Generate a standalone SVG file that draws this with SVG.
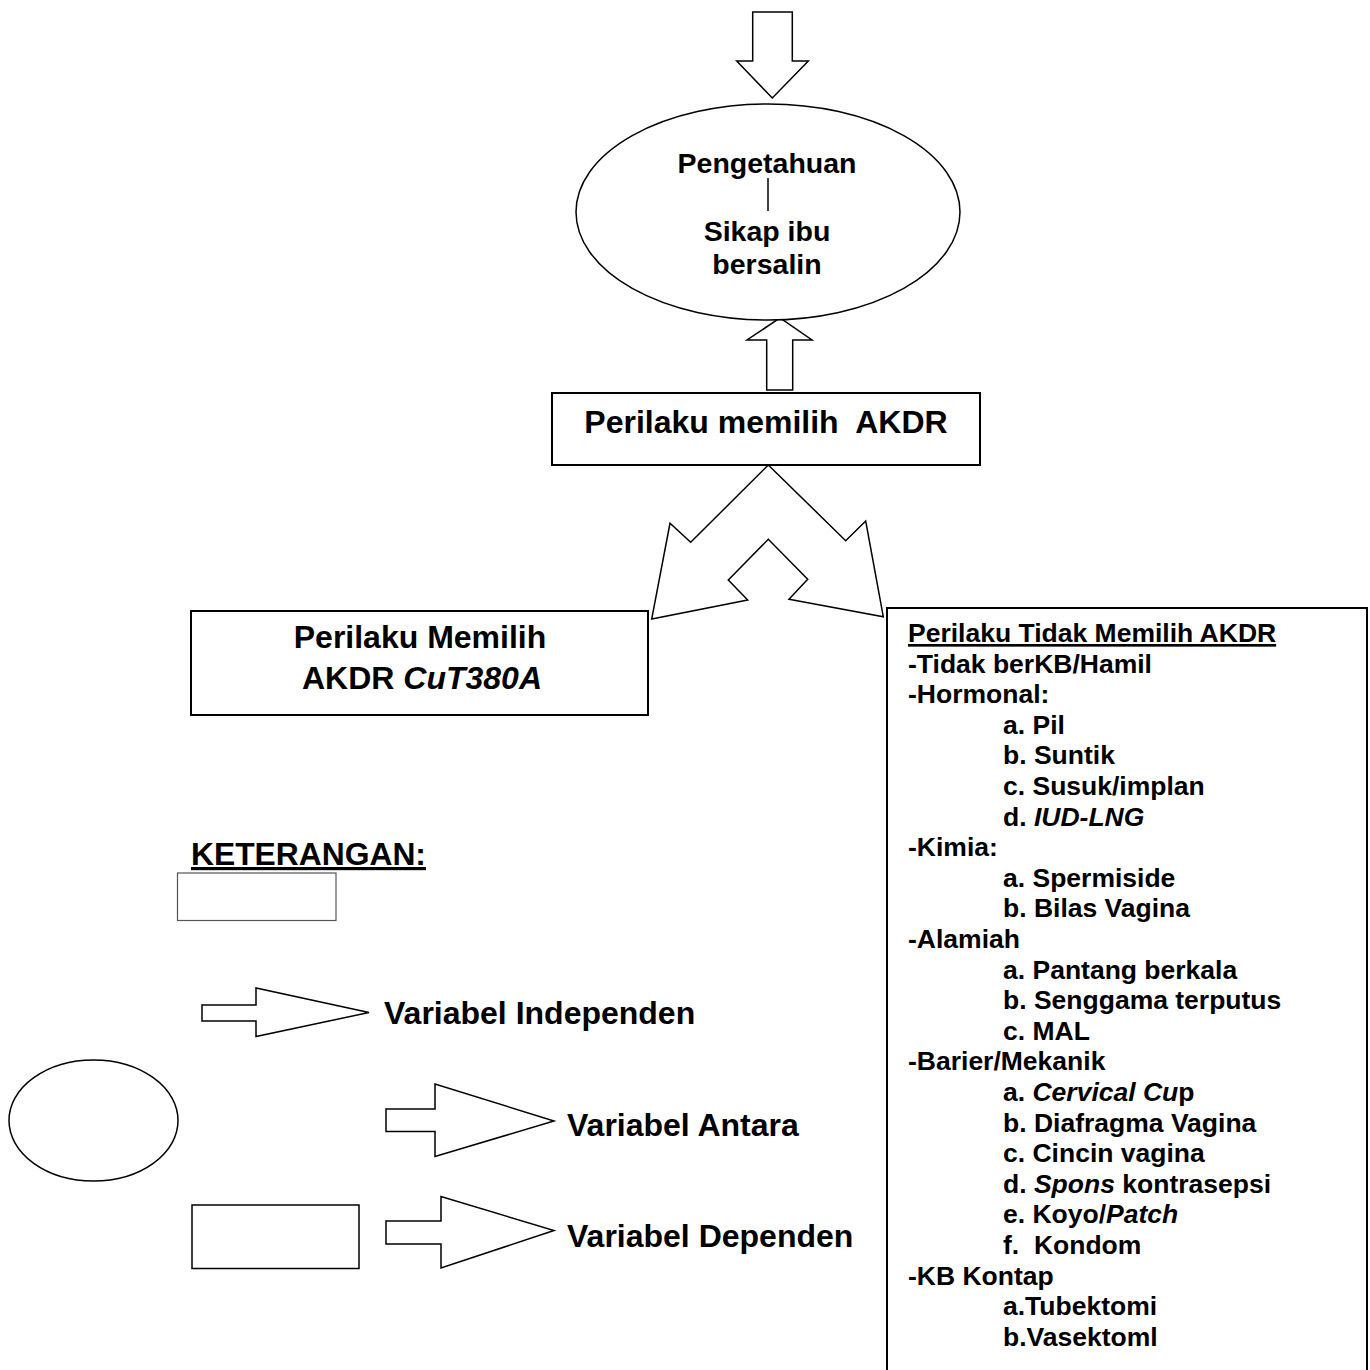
<svg xmlns="http://www.w3.org/2000/svg" width="1370" height="1370" viewBox="0 0 1370 1370">
<style>
text{font-family:"Liberation Sans",Arial,sans-serif;font-weight:bold;fill:#000}
.shape{fill:#fff;stroke:#000;stroke-width:1.5;stroke-linejoin:miter}
.box{fill:#fff;stroke:#000;stroke-width:2}
.c{text-anchor:middle}
.t32{font-size:32px}
.t28{font-size:28.5px}
.t26{font-size:26.5px}
.i{font-style:italic}
.u{text-decoration:underline}
</style>
<rect width="1370" height="1370" fill="#fff"/>
<g id="connectors">
<path id="arrow-top" class="shape" d="M752.7,12 H792.3 V61 H808.3 L772.3,98 L736.7,61 H752.7 Z"/>
<path id="arrow-up" class="shape" d="M766.7,390 V340 H747 L780,318 L812,340 H792.7 V390 Z"/>
<path id="arrow-fork" class="shape" d="M768.3,465 L690.7,542.3 L670,523.3 L651.7,619 L747.7,600 L728.3,580 L768.3,539.3 L807.7,579.3 L789,599.3 L883.3,616.7 L865.7,521 L845.7,540.7 Z"/>
</g>
<g id="node-ellipse">
<ellipse class="shape" cx="768" cy="212" rx="192" ry="108"/>
<text class="t28 c" x="767" y="173">Pengetahuan</text>
<line x1="768" y1="178" x2="768" y2="211" stroke="#000" stroke-width="1.5"/>
<text class="t28 c" x="767" y="241">Sikap ibu</text>
<text class="t28 c" x="767" y="274">bersalin</text>
</g>
<g id="node-perilaku">
<rect class="box" x="552" y="393" width="428" height="72"/>
<text class="t32 c" x="766" y="433" xml:space="preserve">Perilaku memilih  AKDR</text>
</g>
<g id="node-memilih">
<rect class="box" x="191" y="611" width="457" height="104"/>
<text class="t32 c" x="420" y="648">Perilaku Memilih</text>
<text class="t32 c" x="422" y="689">AKDR <tspan class="i">CuT380A</tspan></text>
</g>
<g id="node-tidak">
<rect class="box" x="887" y="608" width="480" height="780"/>
<g class="t26">
<text class="u" x="908" y="642">Perilaku Tidak Memilih AKDR</text>
<text x="908" y="673">-Tidak berKB/Hamil</text>
<text x="908" y="703">-Hormonal:</text>
<text x="1003" y="734">a. Pil</text>
<text x="1003" y="764">b. Suntik</text>
<text x="1003" y="795">c. Susuk/implan</text>
<text x="1003" y="826">d. <tspan class="i">IUD-LNG</tspan></text>
<text x="908" y="856">-Kimia:</text>
<text x="1003" y="887">a. Spermiside</text>
<text x="1003" y="917">b. Bilas Vagina</text>
<text x="908" y="948">-Alamiah</text>
<text x="1003" y="979">a. Pantang berkala</text>
<text x="1003" y="1009">b. Senggama terputus</text>
<text x="1003" y="1040">c. MAL</text>
<text x="908" y="1070">-Barier/Mekanik</text>
<text x="1003" y="1101">a. <tspan class="i">Cervical Cu</tspan>p</text>
<text x="1003" y="1132">b. Diafragma Vagina</text>
<text x="1003" y="1162">c. Cincin vagina</text>
<text x="1003" y="1193">d. <tspan class="i">Spons</tspan> kontrasepsi</text>
<text x="1003" y="1223">e. Koyo/<tspan class="i">Patch</tspan></text>
<text x="1003" y="1254" xml:space="preserve">f.  Kondom</text>
<text x="908" y="1285">-KB Kontap</text>
<text x="1003" y="1315">a.Tubektomi</text>
<text x="1003" y="1346">b.Vasektoml</text>
</g>
</g>
<g id="legend">
<text class="u" x="191" y="865" font-size="31.8">KETERANGAN:</text>
<rect x="177.5" y="873" width="158.5" height="47.5" fill="#fff" stroke="#555" stroke-width="1.2"/>
<path class="shape" d="M202,1005 H256 V988 L369,1012.5 L256,1036.5 V1021 H202 Z"/>
<text class="t32" x="384" y="1024">Variabel Independen</text>
<ellipse class="shape" cx="93.5" cy="1120.5" rx="84.5" ry="60.5"/>
<path class="shape" d="M386,1109 H435 V1084 L554,1121 L435,1156.5 V1131.5 H386 Z"/>
<text class="t32" x="567" y="1136">Variabel Antara</text>
<rect class="shape" x="192" y="1205" width="167" height="63.5"/>
<path class="shape" d="M386,1221 H441 V1196.5 L554,1230.5 L441,1268 V1244 H386 Z"/>
<text class="t32" x="567" y="1247">Variabel Dependen</text>
</g>
</svg>
